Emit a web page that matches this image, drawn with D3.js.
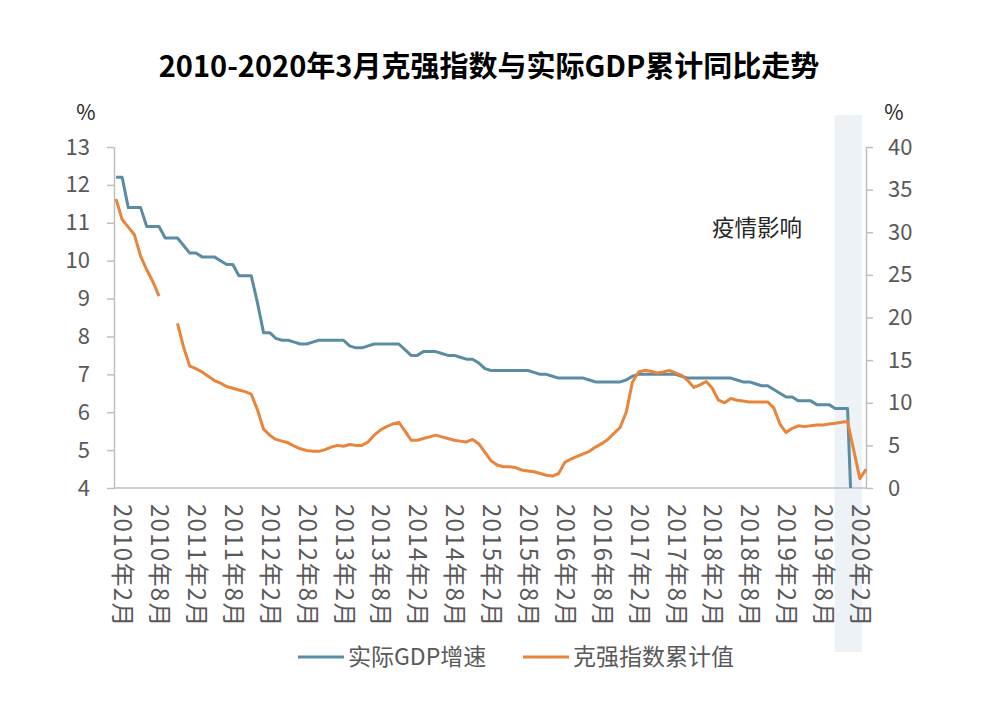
<!DOCTYPE html>
<html><head><meta charset="utf-8">
<script src="https://cdn.jsdelivr.net/npm/d3@7/dist/d3.min.js"></script>
<style>
body{margin:0;background:#fff;}
svg{display:block;font-family:"Noto Sans CJK SC","Noto Sans",sans-serif;}
</style></head><body>
<svg id="chart" width="994" height="712"></svg>
<script>
// ---- data ----
const title = "2010-2020年3月克强指数与实际GDP累计同比走势";
const seriesNames = ["实际GDP增速", "克强指数累计值"];
const startYear = 2010, startMonth = 1, monthCount = 123; // 2010-01 ... 2020-03
const tickLabels = ["2010-02","2010-08","2011-02","2011-08","2012-02","2012-08","2013-02","2013-08","2014-02","2014-08","2015-02","2015-08","2016-02","2016-08","2017-02","2017-08","2018-02","2018-08","2019-02","2019-08","2020-02"];
const leftTicks = [4,5,6,7,8,9,10,11,12,13];
const rightTicks = [0,5,10,15,20,25,30,35,40];
const gdp = [12.2,12.2,11.4,11.4,11.4,10.9,10.9,10.9,10.6,10.6,
 10.6,10.4,10.2,10.2,10.1,10.1,10.1,10.0,9.9,9.9,
 9.6,9.6,9.6,8.9,8.1,8.1,7.95,7.9,7.9,7.85,
 7.8,7.8,7.85,7.9,7.9,7.9,7.9,7.9,7.75,7.7,
 7.7,7.75,7.8,7.8,7.8,7.8,7.8,7.65,7.5,7.5,
 7.6,7.6,7.6,7.55,7.5,7.5,7.45,7.4,7.4,7.3,
 7.15,7.1,7.1,7.1,7.1,7.1,7.1,7.1,7.05,7.0,
 7.0,6.95,6.9,6.9,6.9,6.9,6.9,6.85,6.8,6.8,
 6.8,6.8,6.8,6.85,6.95,7.0,7.0,7.0,7.0,7.0,
 7.0,7.0,6.95,6.9,6.9,6.9,6.9,6.9,6.9,6.9,
 6.9,6.85,6.8,6.8,6.75,6.7,6.7,6.6,6.5,6.4,
 6.4,6.3,6.3,6.3,6.2,6.2,6.2,6.1,6.1,6.1,
 null,null,-6.8];
const kq = [33.9,31.5,30.6,29.7,27.2,25.6,24.2,22.5,null,null,
 19.3,16.5,14.3,14.0,13.6,13.1,12.6,12.3,11.9,11.7,
 11.5,11.3,11.0,9.2,6.9,6.2,5.7,5.5,5.3,4.9,
 4.6,4.4,4.3,4.3,4.5,4.8,5.0,4.9,5.1,5.0,
 5.0,5.4,6.2,6.8,7.2,7.5,7.7,6.7,5.6,5.6,
 5.8,6.0,6.2,6.0,5.8,5.6,5.5,5.4,5.7,5.2,
 4.2,3.2,2.7,2.5,2.5,2.4,2.1,2.0,1.9,1.7,
 1.5,1.4,1.7,3.0,3.4,3.7,4.0,4.3,4.8,5.2,
 5.7,6.4,7.1,8.9,12.4,13.6,13.8,13.7,13.5,13.6,
 13.8,13.5,13.2,12.6,11.8,12.1,12.5,11.7,10.3,10.0,
 10.5,10.3,10.2,10.1,10.1,10.1,10.1,9.4,7.5,6.5,
 7.0,7.3,7.2,7.3,7.4,7.4,7.5,7.6,7.7,7.8,
 null,1.1,2.2];
const kqBridged = ["2020-01"]; // missing month joined straight across
const covidBand = ["2019-12","2020-03"];
const covidLabel = "疫情影响";

// ---- build ----
const months = d3.range(monthCount).map(i => {
  const t = startMonth - 1 + i;
  return (startYear + Math.floor(t/12)) + "-" + String(t%12 + 1).padStart(2,"0");
});
const fmtLabel = m => { const [yy, mo] = m.split("-"); return yy + "年" + (+mo) + "月"; };

const svg = d3.select("#chart");
const colors = {gdp:"#5b8ca1", kq:"#e8853c", axis:"#bfbfbf", text:"#595959"};
const pLeft = 114, pRight = 866, pTop = 147, pBottom = 488;

const x = d3.scalePoint().domain(months).range([116, pRight]);
const yL = d3.scaleLinear().domain([4,13]).range([pBottom, pTop]);
const yR = d3.scaleLinear().domain([0,40]).range([pBottom, pTop]);

// covid band
svg.append("rect")
  .attr("x", x(covidBand[0]) - 13).attr("y", 115)
  .attr("width", x(covidBand[1]) - x(covidBand[0]) + 9).attr("height", 537)
  .attr("fill", "#edf2f6");

svg.append("text").attr("x", 757).attr("y", 236).attr("text-anchor","middle")
  .attr("font-size", 22.5).attr("fill", "#262626").text(covidLabel);

// title
svg.append("text").attr("x", 489).attr("y", 77).attr("text-anchor","middle")
  .attr("font-size", 29).attr("font-weight", "bold").attr("fill", "#000").text(title);

// % units
svg.append("text").attr("x", 86).attr("y", 120).attr("text-anchor","middle")
  .attr("font-size", 21).attr("fill","#262626").text("%");
svg.append("text").attr("x", 894).attr("y", 120).attr("text-anchor","middle")
  .attr("font-size", 21).attr("fill","#262626").text("%");

// axes
const styleAxis = g => {
  g.select(".domain").attr("stroke", colors.axis).attr("stroke-width", 1.5);
  g.selectAll(".tick line").attr("stroke", colors.axis).attr("stroke-width", 1.5);
  g.selectAll(".tick text").attr("fill", colors.text).attr("font-family", '"Noto Sans CJK SC","Noto Sans",sans-serif');
};
svg.append("g").attr("transform", `translate(${pLeft},0)`)
  .call(d3.axisLeft(yL).tickValues(leftTicks).tickSize(7).tickPadding(17).tickSizeOuter(0))
  .call(styleAxis).call(g => g.selectAll(".tick text").attr("font-size", 22));
svg.append("g").attr("transform", `translate(${pRight},0)`)
  .call(d3.axisRight(yR).tickValues(rightTicks).tickSize(7).tickPadding(15).tickSizeOuter(0))
  .call(styleAxis).call(g => g.selectAll(".tick text").attr("font-size", 22));

const xAxis = svg.append("g").attr("transform", `translate(0,${pBottom})`)
  .call(d3.axisBottom(x).tickValues(tickLabels).tickSize(0).tickFormat(fmtLabel))
  .call(styleAxis);
xAxis.select(".domain").attr("d", `M${pLeft},0H${pRight}`);
xAxis.selectAll(".tick text")
  .attr("font-size", 24)
  .attr("letter-spacing", "1.3px")
  .attr("transform", "rotate(90)")
  .attr("text-anchor", "start")
  .attr("x", 16).attr("y", 0).attr("dy", "0.35em");

// clip
svg.append("clipPath").attr("id","plotclip").append("rect")
  .attr("x", pLeft).attr("y", 100).attr("width", pRight - pLeft + 2).attr("height", pBottom - 100);

// lines
const gdpPts = months.map((m,i) => ({m, v: gdp[i]})).filter(d => d.v !== null);
svg.append("path").datum(gdpPts)
  .attr("clip-path","url(#plotclip)")
  .attr("fill","none").attr("stroke", colors.gdp).attr("stroke-width", 3).attr("stroke-linejoin","round")
  .attr("d", d3.line().x(d => x(d.m)).y(d => yL(d.v)));

const kqPts = months.map((m,i) => ({m, v: kq[i]})).filter(d => !(d.v === null && kqBridged.includes(d.m)));
svg.append("path").datum(kqPts)
  .attr("fill","none").attr("stroke", colors.kq).attr("stroke-width", 3).attr("stroke-linejoin","round")
  .attr("d", d3.line().defined(d => d.v !== null).x(d => x(d.m)).y(d => yR(d.v)));

// legend
const legend = [{name: seriesNames[0], c: colors.gdp, x: 298}, {name: seriesNames[1], c: colors.kq, x: 523}];
const lg = svg.append("g").selectAll("g").data(legend).join("g")
  .attr("transform", d => `translate(${d.x},657)`);
lg.append("line").attr("x1",0).attr("x2",46).attr("stroke", d => d.c).attr("stroke-width",3);
lg.append("text").attr("x", 50).attr("dy","0.35em").attr("font-size", 23).attr("fill", colors.text).text(d => d.name);
</script></body></html>
